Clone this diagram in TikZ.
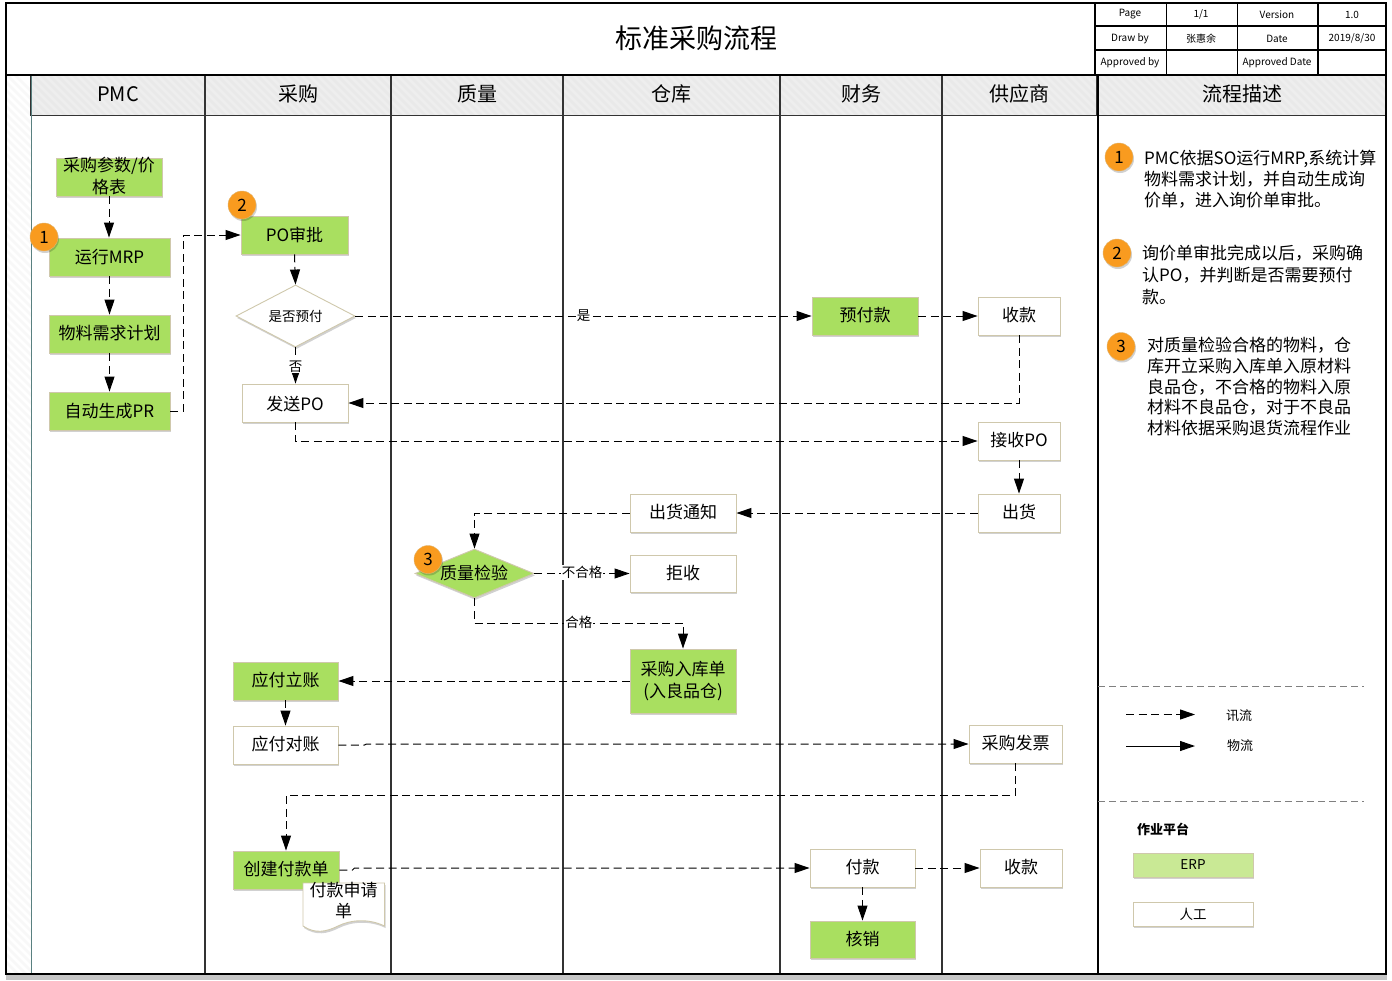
\documentclass[tikz,border=0pt]{standalone}
\usepackage{fontspec}
\setmainfont{Noto Sans CJK SC}
\usetikzlibrary{arrows.meta,shadows,shapes.geometric,calc}
\definecolor{nodegreen}{HTML}{A9DF60}
\definecolor{lightgreen}{HTML}{C9E995}
\definecolor{edgebeige}{HTML}{CFC8AC}
\definecolor{badgeorange}{HTML}{F99B1F}
\definecolor{hdrgray}{HTML}{E9E9E9}
\definecolor{stripegray}{HTML}{EEEEEE}
\definecolor{stripelight}{HTML}{F8F8F8}
\definecolor{laneline}{HTML}{333333}
\newcommand{\fs}[2]{\fontsize{#1}{#2}\selectfont}
\tikzset{
  x=1pt,y=-1pt,
  softshadow/.style={drop shadow={shadow xshift=1pt,shadow yshift=-2pt,opacity=.18,fill=black}},
  nbox/.style={rectangle,inner sep=0pt,draw=edgebeige,line width=.9pt,softshadow,font=\fs{17}{22},align=center},
  gbox/.style={nbox,fill=nodegreen},
  wbox/.style={nbox,fill=white},
  upone/.style={text height=12.5pt,text depth=2pt},
  downone/.style={text height=16pt,text depth=1pt},
  gdia/.style={diamond,aspect=2,inner sep=0pt,draw=edgebeige,line width=.9pt,softshadow,fill=nodegreen,font=\fs{17}{22}},
  wdia/.style={diamond,aspect=2,inner sep=0pt,draw=edgebeige,line width=.9pt,softshadow,fill=white,font=\fs{13.5}{16}},
  badge/.style={circle,fill=badgeorange,draw=edgebeige!60!badgeorange,line width=.4pt,minimum size=28pt,inner sep=0pt,softshadow,font=\fs{17}{20}},
  flow/.style={draw=black,line width=1pt,dash pattern=on 8pt off 4.5pt,-{Triangle[length=15pt,width=10pt]}},
  solidflow/.style={draw=black,line width=1pt,-{Triangle[length=15pt,width=10pt]}},
  edgelbl/.style={fill=white,inner sep=1pt,font=\fs{13.5}{16}},
  hdr/.style={rectangle,inner sep=0pt,draw=laneline,line width=1.2pt,font=\fs{20}{24},text height=14pt,text depth=2pt},
  lane/.style={draw=laneline,line width=1.5pt},
  cell/.style={inner sep=0pt,font=\fs{10}{12}},
  desc/.style={anchor=north west,inner sep=0pt,align=left,font=\fs{17}{21}},
  sep/.style={draw=gray,line width=1pt,dash pattern=on 7pt off 4pt},
}
\begin{document}
\begin{tikzpicture}
\useasboundingbox (0,0) rectangle (1392,980);
\fill[white] (0,0) rectangle (1392,980);
% bottom soft edge
\fill[gray!45] (6,974) rectangle (1387,980);
% left strip hatch
\begin{scope}
\clip (6,76) rectangle (31,974);
\foreach \yy in {60,68,...,980}{\draw[draw=stripelight,line width=2.5pt] (0,\yy) -- (40,\yy+40);}
\end{scope}
% header band hatch
\fill[hdrgray] (31,76) rectangle (1386,115.5);
\begin{scope}
\clip (31,76) rectangle (1386,115.5);
\foreach \xx in {0,8,...,1400}{\draw[draw=stripegray,line width=2.5pt] (\xx,70) -- (\xx+50,120);}
\end{scope}
% headers
\node[hdr,minimum width=174,minimum height=40] (hPMC) at (118,95.5) {PMC};
\node[hdr,minimum width=186,minimum height=40] (hBuy) at (298,95.5) {采购};
\node[hdr,minimum width=172,minimum height=40] (hQual) at (477,95.5) {质量};
\node[hdr,minimum width=217,minimum height=40] (hWare) at (671.5,95.5) {仓库};
\node[hdr,minimum width=162,minimum height=40] (hFin) at (861,95.5) {财务};
\node[hdr,minimum width=155,minimum height=40] (hSup) at (1019.5,95.5) {供应商};
\node[hdr,minimum width=288,minimum height=40] (hDesc) at (1242,95.5) {流程描述};
% lane lines
\draw[draw=gray!70!teal,line width=1pt] (31,76) -- (31,974);
\foreach \xx in {205,391,563,780,942}{\draw[lane] (\xx,76) -- (\xx,974);}
% frame
\draw[draw=black,line width=2pt] (6,3) rectangle (1386,974);
\draw[draw=black,line width=2pt] (6,75) -- (1386,75);
\draw[draw=black,line width=2pt] (1098,75) -- (1098,974);
\node[font=\fs{27}{32},inner sep=0pt] (title) at (696,38.5) {标准采购流程};
% info table
\draw[draw=black,line width=1.5pt] (1095,3) -- (1095,75);
\foreach \xx in {1166.5,1237.5,1318}{\draw[draw=black,line width=1.5pt] (\xx,3) -- (\xx,75);}
\foreach \yy in {26,50}{\draw[draw=black,line width=1.5pt] (1095,\yy) -- (1386,\yy);}
\node[cell] (t11) at (1130,14.5) {Page};
\node[cell] (t12) at (1201,14.5) {1/1};
\node[cell] (t13) at (1277,14.5) {Version};
\node[cell] (t14) at (1352,14.5) {1.0};
\node[cell] (t21) at (1130,38.5) {Draw by};
\node[cell] (t22) at (1201,38.5) {张惠余};
\node[cell] (t23) at (1277,38.5) {Date};
\node[cell] (t24) at (1352,38.5) {2019/8/30};
\node[cell] (t31) at (1130,62.5) {Approved by};
\node[cell] (t33) at (1277,62.5) {Approved Date};
% PMC lane
\node[gbox,minimum width=106,minimum height=38] (param) at (109,177) {};
\node[font=\fs{17}{22},align=center,inner sep=0pt] (paramtxt) at (109,176.5) {采购参数/价\\格表};
\node[gbox,minimum width=121,minimum height=38] (mrp) at (109.5,257) {运行MRP};
\node[gbox,upone,minimum width=121,minimum height=38] (plan) at (109.5,334) {物料需求计划};
\node[gbox,minimum width=121,minimum height=38] (pr) at (109.5,411) {自动生成PR};
% purchase lane
\node[gbox,minimum width=107,minimum height=38] (po) at (294.5,235) {PO审批};
\node[wdia,minimum width=119,minimum height=62] (prepay) at (295.5,316) {是否预付};
\node[wbox,downone,minimum width=106,minimum height=38] (sendpo) at (295,403) {发送PO};
\node[gbox,upone,minimum width=105,minimum height=38] (ap) at (285.5,681) {应付立账};
\node[wbox,upone,minimum width=105,minimum height=38] (recon) at (285.5,745) {应付对账};
\node[gbox,upone,minimum width=106,minimum height=38] (payreq) at (286,870) {创建付款单};
% document shape
\draw[draw=edgebeige,line width=.9pt,fill=white,softshadow] (303,883) -- (384.5,883) -- (384.5,926) .. controls (368,918) and (350,920) .. (338,926) .. controls (326,932) and (315,934) .. (303,926) -- cycle;
\node[font=\fs{17}{21},align=center,inner sep=0pt] (doc) at (343.5,900.5) {付款申请\\单};
% quality
\node[gdia,minimum width=119,minimum height=49] (qc) at (474.5,573.5) {};
\node[font=\fs{17}{22},inner sep=0pt] (qctxt) at (474,573) {质量检验};
% warehouse
\node[wbox,upone,minimum width=106,minimum height=38] (notice) at (683,513) {出货通知};
\node[wbox,minimum width=106,minimum height=37] (reject) at (683,573.5) {拒收};
\node[gbox,minimum width=106,minimum height=64] (instock) at (683,681) {};
\node[font=\fs{17}{22},align=center,inner sep=0pt] (instocktxt) at (683,681.5) {采购入库单\\(入良品仓)};
% finance
\node[gbox,upone,minimum width=106,minimum height=38] (adv) at (865,316) {预付款};
\node[wbox,upone,minimum width=105,minimum height=38] (pay) at (862.5,868) {付款};
\node[gbox,minimum width=105,minimum height=37] (writeoff) at (862.5,939.5) {核销};
% supplier
\node[wbox,upone,minimum width=82,minimum height=38] (recv) at (1019,316) {收款};
\node[wbox,upone,minimum width=82,minimum height=38] (recvpo) at (1019,441) {接收PO};
\node[wbox,upone,minimum width=82,minimum height=38] (ship) at (1019,513) {出货};
\node[wbox,upone,minimum width=93,minimum height=38] (inv) at (1015.5,744) {采购发票};
\node[wbox,upone,minimum width=82,minimum height=38] (recv2) at (1021,868) {收款};
% connectors
\draw[flow] (param.south) -- (mrp.north -| param.south);
\draw[flow] (mrp.south) -- (plan.north);
\draw[flow] (plan.south) -- (pr.north);
\draw[flow] (pr.east) -- ($(pr.east)+(13,0)$) |- (po.west);
\draw[flow] (po.south) -- (prepay.north);
\draw[flow] (prepay.east) -- node[edgelbl,pos=.5] (lblyes) {是} (adv.west);
\draw[flow] (adv.east) -- (recv.west);
\draw[flow] (prepay.south) -- node[edgelbl,pos=.53] (lblno) {否} (sendpo.north -| prepay.south);
\draw[flow] (recv.south) |- (sendpo.east);
\draw[flow] (sendpo.south) |- (recvpo.west);
\draw[flow] (recvpo.south) -- (ship.north);
\draw[flow] (ship.west) -- (notice.east);
\draw[flow] (notice.west) -| (qc.north);
\draw[flow] (qc.east) -- node[edgelbl,pos=.5,yshift=1pt] (lblbad) {不合格} (reject.west);
\coordinate (qcdown) at ($(qc.south)+(0,25)$);
\draw[flow] (qc.south) -- (qcdown) -| node[edgelbl,pos=.25,yshift=1pt] (lblgood) {合格} (instock.north);
\draw[flow] (instock.west) -- (ap.east);
\draw[flow] (ap.south) -- (recon.north);
\draw[flow] (recon.east) -- ++(26,0) -- ++(2,-1) -- (inv.west);
\coordinate (invdown) at ($(inv.south)+(0,32)$);
\draw[flow] (inv.south) -- (invdown) -| (payreq.north);
\draw[flow] (payreq.east) -- ++(13,0) -- ++(2,-2) -- (pay.west);
\draw[flow] (pay.east) -- (recv2.west);
\draw[flow] (pay.south) -- (writeoff.north);
% badges
\node[badge] (b1) at (44,237) {1};
\node[badge] (b2) at (242,205) {2};
\node[badge] (b3) at (428,559.5) {3};
\node[badge] (d1) at (1119,157) {1};
\node[badge] (d2) at (1117,253) {2};
\node[badge] (d3) at (1121,346.5) {3};
% description
\node[desc] (t1) at (1144,150) {PMC依据SO运行MRP,系统计算\\物料需求计划，并自动生成询\\价单，进入询价单审批。};
\node[desc,font=\fs{17}{22}] (t2) at (1142,245) {询价单审批完成以后，采购确\\认PO，并判断是否需要预付\\款。};
\node[desc,font=\fs{17}{20.7}] (t3) at (1147,337) {对质量检验合格的物料，仓\\库开立采购入库单入原材料\\良品仓，不合格的物料入原\\材料不良品仓，对于不良品\\材料依据采购退货流程作业};
% legend
\coordinate (s1a) at (1098,686); \coordinate (s1b) at (1364,686);
\coordinate (s2a) at (1098,801); \coordinate (s2b) at (1364,801);
\draw[sep] (s1a) -- (s1b);
\draw[sep] (s2a) -- (s2b);
\coordinate (la) at (1126,714.5); \coordinate (lb) at (1195,714.5);
\coordinate (lc) at (1126,746); \coordinate (ld) at (1195,746);
\draw[flow] (la) -- (lb);
\draw[solidflow] (lc) -- (ld);
\node[font=\fs{13}{16},inner sep=0pt] (lg1) at (1239,716) {讯流};
\node[font=\fs{13}{16},inner sep=0pt] (lg2) at (1240,746) {物流};
\node[font=\fs{13}{16},inner sep=0pt] (lg3) at (1163,829) {\bfseries 作业平台};
\node[nbox,fill=lightgreen,minimum width=120,minimum height=24,font=\fs{13.5}{16}] (erp) at (1193,865) {ERP};
\node[nbox,fill=white,minimum width=120,minimum height=24,font=\fs{13.5}{16}] (man) at (1193,914) {人工};
\end{tikzpicture}
\end{document}
